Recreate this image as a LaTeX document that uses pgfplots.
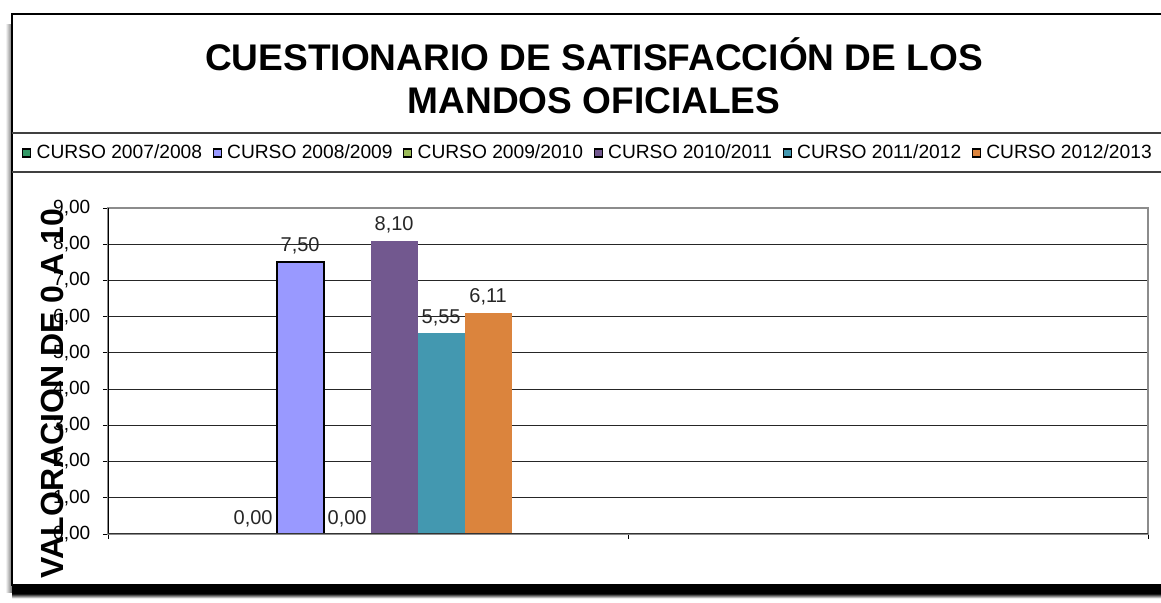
\documentclass[border=0pt]{standalone}
\usepackage{pgfplots}
\pgfplotsset{compat=1.18}
\usepackage{fontspec}
\setmainfont{Liberation Sans}
\definecolor{c1}{RGB}{51,153,102}
\definecolor{c2}{RGB}{153,153,255}
\definecolor{c3}{RGB}{155,187,89}
\definecolor{c4}{RGB}{114,88,143}
\definecolor{c5}{RGB}{67,152,176}
\definecolor{c6}{RGB}{219,132,61}
\pgfplotsset{sq/.style={legend image code/.code={\draw[##1,line width=0.8pt] (0pt,-3pt) rectangle (6pt,3pt);}}}
\begin{document}
\begin{tikzpicture}
\useasboundingbox (0,0) rectangle (870.75pt,452.25pt);
\fill[white] (0,0) rectangle (870.75pt,452.25pt);
% shadows
\shade[left color=white, right color=black!55] (4pt,8pt) rectangle (9pt,434pt);
\fill[black] (9pt,7pt) rectangle (870.75pt,12.5pt);
\shade[top color=black, bottom color=white] (9pt,3.5pt) rectangle (870.75pt,7.1pt);
% frame
\draw[black, line width=1.1pt] (870.75pt,441.75pt) -- (9pt,441.75pt) -- (9pt,13.5pt) -- (870.75pt,13.5pt);
\draw[black!75, line width=1pt] (9pt,352.5pt) -- (870.75pt,352.5pt);
\draw[black!75, line width=1pt] (9pt,323.25pt) -- (870.75pt,323.25pt);
% title
\node[align=center, font=\fontsize{27.8}{32.3}\selectfont\bfseries] at (445.5pt,395.5pt)
  {CUESTIONARIO DE SATISFACCIÓN DE LOS\\MANDOS OFICIALES};
\begin{axis}[
  at={(81pt,51.75pt)}, anchor=south west,
  scale only axis, width=780pt, height=244.5pt,
  ybar=0pt, bar width=35.25pt,
  xmin=-0.5, xmax=1.5, ymin=0, ymax=9,
  xtick={-0.5,0.5,1.5}, xticklabels={},
  ytick={0,1,...,9},
  tick align=outside, major tick length=3.75pt,
  tick style={black, line width=0.6pt},
  xtick pos=bottom, ytick pos=left,
  ymajorgrids, grid style={black!85, line width=0.6pt},
  axis line style={black!45, line width=1pt},
  /pgf/number format/.cd, fixed, fixed zerofill, precision=2, use comma, assume math mode=true,
  /pgfplots/.cd,
  yticklabel style={font=\fontsize{14.3}{16}\selectfont, xshift=-6pt},
  nodes near coords,
  every node near coord/.append style={font=\fontsize{15}{17}\selectfont, text=black!85, yshift=2pt},
  legend columns=6,
  legend style={at={(-0.0827,1.1687)}, anchor=west, draw=none, fill=none, inner sep=0pt,
    font=\fontsize{14.4}{16}\selectfont,
    nodes={inner xsep=2.5pt},
    /tikz/every odd column/.append style={column sep=1.5pt},
    /tikz/every even column/.append style={column sep=5.5pt}},
]
\addplot[sq, fill=c1, draw=black] coordinates {(0.005,0)};
\addplot[sq, fill=c2, draw=black, line width=1.5pt] coordinates {(0.005,7.5)};
\addplot[sq, fill=c3, draw=none] coordinates {(0.005,0)};
\addplot[sq, fill=c4, draw=none] coordinates {(0.005,8.1)};
\addplot[sq, fill=c5, draw=none] coordinates {(0.005,5.55)};
\addplot[sq, fill=c6, draw=none] coordinates {(0.005,6.11)};
\legend{CURSO 2007/2008,CURSO 2008/2009,CURSO 2009/2010,CURSO 2010/2011,CURSO 2011/2012,CURSO 2012/2013}
\draw[black, line width=1pt] (rel axis cs:0,0) -- (rel axis cs:0,1);
\draw[black!80, line width=1.2pt] (rel axis cs:0,0) -- (rel axis cs:1,0);
\end{axis}
\node[rotate=90, font=\fontsize{24}{26}\selectfont\bfseries] at (39pt,157.1pt) {VALORACION DE 0 A 10};
\end{tikzpicture}
\end{document}
